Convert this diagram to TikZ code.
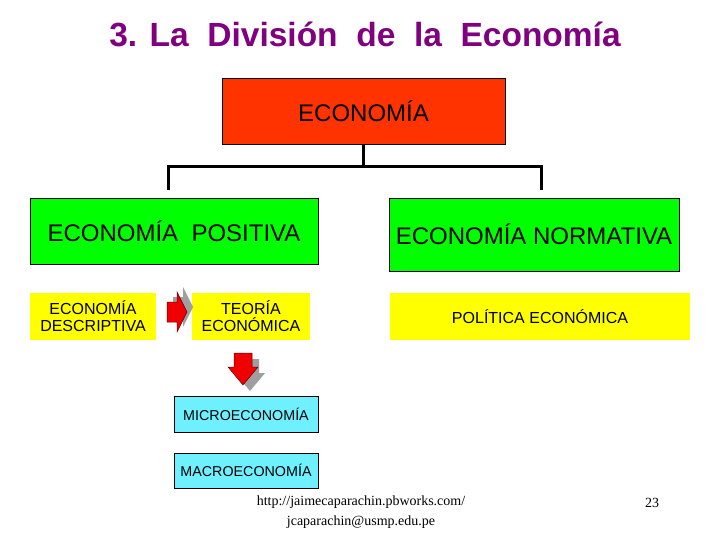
\documentclass[tikz,border=0pt]{standalone}
\usepackage{fontspec}
\setmainfont{Liberation Sans}
\newfontfamily\timesfont{Liberation Serif}
\usetikzlibrary{positioning}
\definecolor{titlepurple}{RGB}{128,0,128}
\definecolor{econred}{RGB}{255,51,0}
\definecolor{boxgreen}{RGB}{0,255,0}
\definecolor{boxyellow}{RGB}{255,255,0}
\definecolor{boxcyan}{RGB}{110,240,255}
\definecolor{arrowred}{RGB}{240,0,0}

\begin{document}
\begin{tikzpicture}[
    x=1pt, y=-1pt,
    box/.style={draw=black, line width=0.8pt, align=center, inner sep=0pt},
    topbox/.style={box, fill=econred, minimum width=283pt, minimum height=66pt, font=\fontsize{24}{28}\selectfont},
    branch/.style={box, fill=boxgreen, minimum width=288pt, font=\fontsize{24}{28}\selectfont},
    theme/.style={fill=boxyellow, align=center, inner sep=0pt, minimum height=47pt, font=\fontsize{16}{17}\selectfont},
    sub/.style={box, fill=boxcyan, minimum width=144pt, minimum height=36pt, font=\fontsize{14.3}{16}\selectfont},
    link/.style={line width=3pt},
    redarrow/.style={fill=arrowred, draw=red!40!black, line width=0.5pt},
    shade/.style={fill=gray!75}
]
\useasboundingbox (0,0) rectangle (720,540);

\node[text=titlepurple, font=\bfseries\fontsize{33.5}{38}\selectfont] (title) at (365,34) {3. La\ \ División\ \ de\ \ la\ \ Economía};

\node[topbox] (econ) at (363.5,111) {ECONOMÍA};

\node[branch, minimum height=66pt] (pos) at (174,231) {ECONOMÍA\ \ POSITIVA};
\node[branch, minimum width=290pt, minimum height=73pt] (norm) at (534,234.5) {ECONOMÍA NORMATIVA};

\node[theme, minimum width=126pt] (desc) at (93,316.5) {ECONOMÍA\\DESCRIPTIVA};
\node[theme, minimum width=118pt] (teor) at (251,316.5) {TEORÍA\\ECONÓMICA};
\node[theme, minimum width=300pt] (pol) at (540,316.5) {POLÍTICA ECONÓMICA};

\node[sub] (micro) at (246,414) {MICROECONOMÍA};
\node[sub, minimum height=35pt] (macro) at (246,470.5) {MACROECONOMÍA};

% tree lines
\coordinate (bar) at (363.5,167);
\coordinate (lpos) at (168,190);
\coordinate (lnorm) at (541,190);
\draw[link] (econ.south) -- (bar);
\draw[link] (lpos) |- (bar) -| (lnorm);

% block arrows
\fill[shade, shift={(6,-5)}] (167,302) -- (177,302) -- (177,292) -- (187,312) -- (177,332) -- (177,322) -- (167,322) -- cycle;
\draw[redarrow] (167,302) -- (177,302) -- (177,292) -- (187,312) -- (177,332) -- (177,322) -- (167,322) -- cycle;
\fill[shade, shift={(7,6)}] (234,353) -- (252,353) -- (252,367) -- (258,367) -- (243,385) -- (228,367) -- (234,367) -- cycle;
\draw[redarrow] (234,353) -- (252,353) -- (252,367) -- (258,367) -- (243,385) -- (228,367) -- (234,367) -- cycle;

% footer
\node[font=\timesfont\fontsize{14}{20}\selectfont, align=center] (web) at (361,512) {http://jaimecaparachin.pbworks.com/\\jcaparachin@usmp.edu.pe};
\node[font=\timesfont\fontsize{14}{16}\selectfont] (page) at (652,503) {23};
\end{tikzpicture}
\end{document}
